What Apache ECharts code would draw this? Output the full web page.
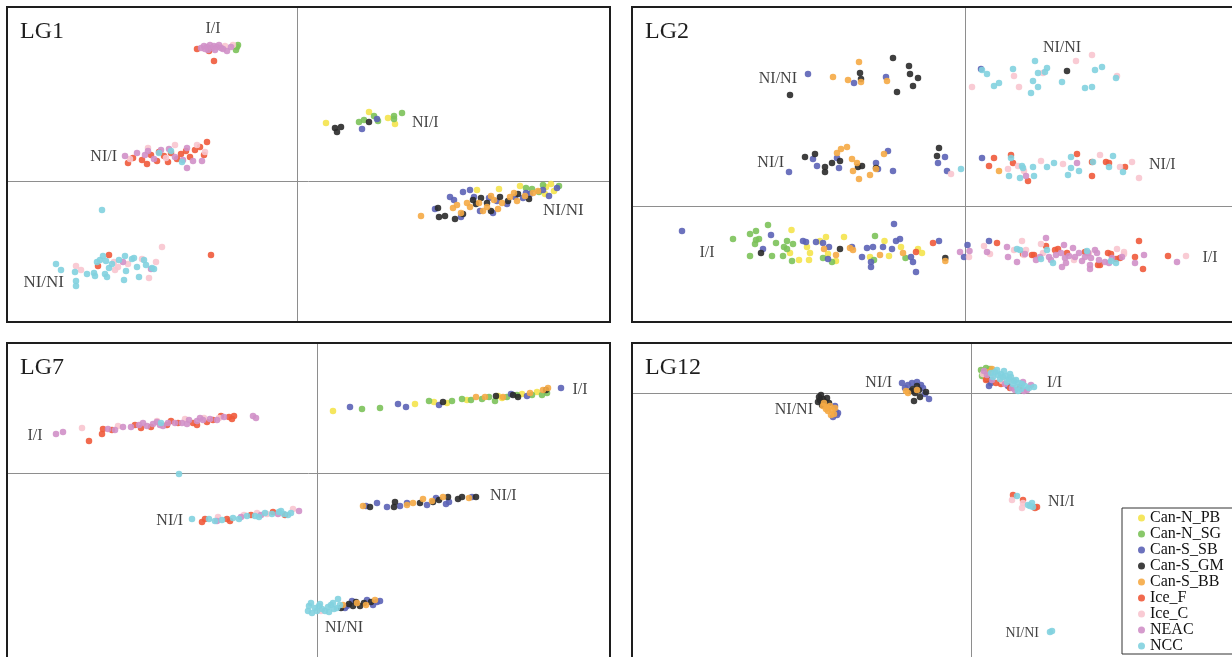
<!DOCTYPE html>
<html><head><meta charset="utf-8">
<script src="https://cdn.jsdelivr.net/npm/echarts@6/dist/echarts.min.js"></script>
<style>html,body{margin:0;padding:0;background:#fff}#c{width:1232px;height:657px}</style>
</head><body><div id="c"></div>
<script>
// ---------- categories ----------
const species = ['Can-N_PB','Can-N_SG','Can-S_SB','Can-S_GM','Can-S_BB','Ice_F','Ice_C','NEAC','NCC'];
const panelTitles = ['LG1','LG2','LG7','LG12'];

// ---------- LG1 values (x, y) ----------
const lg1PB = [[2.9,5.8],[7.2,6.9],[9.1,6.3],[9.8,5.7],[18.0,-0.9],[22.3,-0.5],[25.4,-0.3],[24.9,-0.6],[24.8,-1.3],[20.2,-0.8],[25.7,-1.0]];
const lg1SG = [[-6.0,13.4],[-6.1,13.1],[-5.9,13.6],[6.2,5.9],[6.7,6.1],[7.7,6.5],[8.1,6.0],[9.7,6.5],[9.7,6.2],[10.5,6.8],[23.5,-0.8],[24.2,-1.1],[26.2,-0.5],[22.9,-0.7],[24.6,-0.4]];
const lg1SB = [[8.0,6.2],[6.5,5.2],[13.8,-2.8],[15.3,-1.6],[16.6,-1.1],[15.7,-1.9],[17.7,-1.6],[18.3,-3.0],[19.2,-1.7],[20.0,-2.0],[21.0,-2.3],[21.8,-1.6],[22.6,-1.7],[23.3,-1.3],[24.6,-0.9],[25.2,-1.5],[16.4,-3.6],[19.6,-3.2],[26.0,-0.7],[17.3,-0.9],[22.9,-1.2]];
const lg1GM = [[3.8,5.3],[4.0,4.9],[4.4,5.4],[7.2,5.9],[14.1,-2.7],[14.2,-3.6],[15.8,-3.8],[14.8,-3.5],[16.6,-3.3],[17.6,-1.9],[18.4,-1.7],[19.0,-2.2],[20.3,-1.6],[21.1,-2.0],[23.2,-1.8],[22.1,-1.3],[17.9,-2.3],[19.4,-3.0]];
const lg1BB = [[12.4,-3.5],[15.6,-2.7],[16.4,-3.2],[17.3,-2.6],[18.2,-2.2],[19.0,-2.6],[19.7,-1.9],[20.5,-2.2],[21.3,-1.6],[22.0,-2.0],[22.8,-1.5],[23.6,-1.2],[20.1,-2.8],[18.6,-3.0],[21.7,-1.2],[17.0,-2.2],[24.1,-1.0],[19.4,-1.5],[16.0,-2.4]];
const lg1IF = [[-10.0,13.2],[-8.8,13.0],[-8.3,12.0],[-16.9,1.8],[-16.4,2.3],[-15.5,2.1],[-14.6,2.6],[-14.0,2.0],[-13.3,2.5],[-12.6,2.8],[-12.0,2.2],[-11.6,2.7],[-11.1,3.0],[-10.7,2.4],[-10.2,3.1],[-9.7,3.4],[-9.3,2.6],[-9.0,3.9],[-12.9,1.9],[-13.8,2.9],[-15.0,1.7],[-18.8,-7.4],[-19.9,-8.5],[-8.6,-7.4]];
const lg1IC = [[-7.2,13.5],[-6.4,13.6],[-14.9,3.3],[-12.2,3.6],[-10.0,3.6],[-9.2,2.9],[-13.1,2.3],[-16.7,2.2],[-22.1,-8.5],[-21.6,-8.9],[-17.9,-8.6],[-16.9,-8.3],[-15.5,-7.8],[-14.8,-9.7],[-14.1,-8.1],[-13.5,-6.6],[-18.2,-8.9],[-18.3,-8.1]];
const lg1NEAC = [[-9.6,13.3],[-9.3,13.5],[-9.0,13.4],[-8.7,13.6],[-8.5,13.3],[-8.3,13.5],[-8.0,13.4],[-7.8,13.6],[-7.6,13.3],[-7.4,13.2],[-8.9,13.1],[-8.2,13.1],[-7.0,13.0],[-6.6,13.4],[-9.2,13.2],[-17.2,2.5],[-16.0,2.8],[-15.2,2.6],[-14.3,2.2],[-13.6,3.1],[-12.8,3.2],[-12.2,2.4],[-11.4,2.1],[-11.0,3.3],[-10.4,2.0],[-9.5,2.0],[-11.0,1.3],[-14.9,3.0],[-17.4,-8.1],[-14.6,-8.8]];
const lg1NCC = [[-13.8,2.8],[-11.5,1.9],[-12.6,3.0],[-19.5,-2.9],[-24.1,-8.3],[-23.6,-8.9],[-22.2,-9.1],[-22.1,-10.0],[-22.1,-10.5],[-21.0,-9.3],[-20.3,-9.2],[-20.2,-9.5],[-20.0,-8.1],[-19.7,-7.9],[-19.4,-7.5],[-19.1,-8.0],[-19.2,-9.3],[-19.0,-9.6],[-18.8,-8.7],[-18.5,-8.3],[-17.8,-7.9],[-17.2,-7.5],[-17.3,-9.9],[-17.1,-9.0],[-16.5,-7.8],[-16.3,-7.7],[-16.0,-8.6],[-15.8,-9.6],[-15.3,-7.9],[-15.1,-8.4],[-14.3,-8.8],[-14.5,-8.7]];
const lg1LabelText = ['I/I','NI/I','NI/I','NI/NI','NI/NI'];
const lg1LabelAt = [[-8.4,15.2],[-18.0,2.4],[11.5,5.8],[24.6,-3.0],[-23.3,-10.2]];

// ---------- LG2 values ----------
const lg2PB = [[-17.35,-2.4],[-17.5,-4.7],[-16.6,-5.4],[-15.8,-4.1],[-15.5,-4.7],[-15.6,-5.4],[-14.5,-3.5],[-13.9,-3.1],[-13.7,-4.8],[-12.9,-5.5],[-12.1,-3.1],[-9.5,-5.1],[-8.05,-3.5],[-7.6,-5.0],[-6.4,-4.1],[-4.7,-4.3],[-4.3,-4.7]];
const lg2SG = [[-23.2,-3.3],[-21.5,-2.8],[-19.7,-1.9],[-20.9,-2.5],[-21.5,-5.0],[-20.9,-3.4],[-21.0,-3.8],[-20.6,-3.3],[-18.9,-3.7],[-19.3,-5.0],[-17.8,-3.5],[-18.1,-4.1],[-17.8,-4.3],[-17.2,-3.8],[-18.2,-5.0],[-17.3,-5.5],[-14.2,-5.2],[-13.3,-5.6],[-9.1,-5.4],[-9.0,-3.0],[-5.95,-5.2]];
const lg2SB = [[-15.7,13.2],[-11.1,12.3],[-7.9,12.9],[1.6,13.7],[-15.2,4.7],[-14.8,4.0],[-12.8,4.8],[-12.6,3.8],[-8.9,4.3],[-8.7,3.7],[-7.7,5.5],[-7.2,3.5],[-17.6,3.4],[-2.0,4.9],[-2.7,4.3],[-1.8,3.5],[1.7,4.8],[-28.3,-2.5],[-19.4,-2.9],[-20.2,-4.3],[-16.2,-3.5],[-15.9,-3.6],[-14.9,-3.6],[-14.2,-3.7],[-13.6,-4.1],[-13.7,-5.3],[-11.3,-4.1],[-10.3,-5.1],[-9.8,-4.2],[-9.2,-4.1],[-9.4,-5.6],[-9.4,-6.1],[-8.2,-4.1],[-7.1,-1.8],[-7.3,-4.3],[-6.9,-3.5],[-6.5,-3.3],[-5.4,-5.1],[-5.2,-5.6],[-4.9,-6.6],[-2.6,-3.5],[-0.1,-5.1],[0.25,-3.9],[2.4,-3.5]];
const lg2GM = [[-10.5,13.3],[-10.4,12.7],[-7.2,14.8],[-6.8,11.4],[-5.6,14.0],[-5.5,13.2],[-4.7,12.8],[-5.2,12.0],[-17.5,11.1],[10.2,13.5],[-16.0,4.9],[-15.0,5.2],[-14.0,3.9],[-14.0,3.4],[-13.3,4.3],[-12.5,4.5],[-10.7,3.9],[-10.3,4.0],[-8.9,3.8],[-2.6,5.8],[-2.8,5.0],[-20.4,-4.7],[-12.5,-4.3],[-1.97,-5.2]];
const lg2BB = [[-13.2,12.9],[-10.6,14.4],[-11.7,12.6],[-10.4,12.4],[-7.8,12.5],[-12.8,5.3],[-12.4,5.7],[-11.8,5.9],[-11.3,4.7],[-10.8,4.3],[-11.2,3.5],[-10.6,2.7],[-9.5,3.1],[-8.9,3.7],[-8.1,5.2],[3.4,3.5],[-14.1,-4.3],[-12.9,-4.9],[-11.5,-4.2],[-11.2,-4.4],[-8.5,-4.9],[-6.2,-4.7],[-1.97,-5.5]];
const lg2IF = [[2.9,4.8],[2.4,4.0],[4.6,5.1],[4.8,4.3],[6.3,2.5],[11.2,5.2],[12.7,4.4],[12.7,3.0],[14.1,4.4],[14.4,4.3],[16.0,3.9],[-4.9,-4.6],[-3.2,-3.7],[3.2,-3.7],[5.8,-4.8],[6.7,-4.9],[6.9,-4.9],[8.1,-4.0],[9.0,-4.4],[9.3,-4.3],[10.2,-4.7],[12.0,-4.6],[13.3,-5.9],[13.5,-5.9],[14.3,-4.7],[14.6,-4.8],[15.1,-5.3],[15.5,-5.2],[17.4,-3.5],[17.8,-6.3],[20.3,-5.0],[17.0,-5.1]];
const lg2IC = [[0.7,11.9],[4.9,13.0],[5.4,11.9],[7.8,13.3],[11.1,14.5],[12.7,15.1],[15.2,13.0],[-1.4,3.2],[4.3,3.7],[5.3,4.0],[5.9,3.5],[7.6,4.5],[9.8,4.2],[13.5,5.1],[15.5,3.9],[16.7,4.4],[17.4,2.8],[0.4,-5.1],[1.9,-4.0],[2.5,-4.8],[5.7,-3.5],[6.1,-4.4],[7.6,-3.8],[7.8,-4.7],[10.9,-5.4],[12.4,-4.7],[15.2,-4.3],[15.9,-4.6],[15.9,-4.8],[22.1,-5.0],[4.9,-4.4],[5.9,-4.9]];
const lg2NEAC = [[6.1,3.0],[11.2,4.3],[-0.5,-4.6],[0.45,-4.5],[2.2,-4.6],[4.2,-4.1],[5.2,-5.6],[4.3,-5.1],[6.0,-4.8],[7.1,-5.4],[7.5,-5.1],[8.1,-3.2],[8.4,-5.1],[8.6,-5.4],[9.1,-4.9],[9.6,-4.7],[9.7,-6.1],[9.9,-3.9],[10.0,-5.2],[10.1,-5.7],[10.4,-5.0],[10.8,-4.2],[11.0,-5.1],[11.4,-4.7],[11.7,-5.5],[12.0,-5.1],[12.3,-4.7],[12.6,-5.2],[12.5,-5.9],[13.0,-4.4],[13.2,-4.7],[13.4,-5.4],[14.0,-5.6],[14.4,-5.7],[14.7,-5.2],[15.7,-5.1],[17.0,-5.7],[17.9,-4.9],[21.2,-5.6],[12.5,-6.3]];
const lg2NCC = [[1.7,13.6],[2.2,13.2],[2.9,12.0],[3.4,12.3],[4.8,13.7],[6.8,12.5],[6.6,11.3],[7.3,11.9],[7.3,13.3],[7.0,14.5],[8.0,13.4],[8.2,13.8],[9.7,12.4],[13.0,13.6],[13.7,13.9],[12.0,11.8],[12.7,11.9],[15.1,12.8],[-0.4,3.7],[4.6,4.8],[4.4,3.0],[5.7,4.0],[5.8,3.8],[5.5,2.8],[6.8,3.9],[6.9,3.0],[8.2,3.9],[8.9,4.3],[10.3,3.1],[10.6,4.9],[10.6,3.8],[11.4,3.5],[12.8,4.4],[14.4,3.9],[14.8,5.0],[15.8,3.4],[5.2,-4.3],[5.5,-4.4],[7.6,-5.3],[8.2,-4.4],[8.8,-5.7],[12.2,-4.5],[15.1,-5.7],[14.6,-5.5]];
const lg2LabelText = ['NI/NI','NI/NI','NI/I','NI/I','I/I','I/I'];
const lg2LabelAt = [[-16.8,12.7],[9.7,15.8],[-18.1,4.3],[18.4,4.1],[-25.8,-4.7],[24.5,-5.2]];

// ---------- LG7 values ----------
const lg7PB = [[1.6,6.2],[9.8,6.9],[11.7,7.1],[13.0,7.0],[15.0,7.3],[18.1,7.7],[20.5,7.9],[22.0,8.1],[18.5,7.5]];
const lg7SG = [[4.5,6.4],[6.3,6.5],[11.2,7.2],[13.5,7.2],[14.5,7.4],[15.4,7.3],[16.5,7.4],[17.2,7.6],[19.0,7.6],[20.0,7.8],[21.5,7.8],[22.5,7.8],[23.0,8.0],[17.8,7.2]];
const lg7SB = [[3.3,6.6],[8.1,6.9],[8.9,6.6],[12.2,6.8],[21.0,7.7],[24.4,8.5],[19.4,7.9],[6.0,-3.0],[7.0,-3.4],[9.0,-3.0],[11.0,-3.2],[11.9,-2.5],[13.2,-2.9],[15.5,-2.4],[4.9,-3.3],[8.3,-3.3],[12.9,-3.1],[2.8,-13.5],[3.5,-12.8],[5.0,-12.7],[6.0,-12.9],[3.0,-13.3],[5.6,-13.2],[6.3,-12.8]];
const lg7GM = [[12.6,7.1],[17.9,7.7],[20.1,7.6],[22.9,8.3],[19.6,7.8],[5.3,-3.4],[7.8,-2.9],[7.7,-3.4],[10.3,-3.0],[11.6,-2.9],[13.1,-2.4],[14.1,-2.6],[14.5,-2.4],[15.9,-2.4],[12.2,-2.7],[2.4,-13.5],[3.2,-13.1],[3.9,-12.9],[4.7,-13.0],[5.4,-12.9],[4.3,-13.3],[3.6,-13.3]];
const lg7BB = [[15.9,7.6],[18.6,7.6],[21.3,8.0],[22.6,8.3],[23.1,8.5],[16.8,7.6],[4.6,-3.3],[9.6,-3.0],[10.6,-2.6],[12.6,-2.4],[15.2,-2.5],[11.5,-2.8],[9.0,-3.2],[2.6,-13.2],[4.0,-13.0],[5.8,-12.7],[4.9,-13.2]];
const lg7IF = [[-22.8,3.2],[-21.5,3.9],[-21.4,4.4],[-20.5,4.3],[-18.2,4.8],[-16.6,4.6],[-15.0,4.8],[-13.9,5.0],[-12.4,5.0],[-11.0,5.1],[-10.4,5.3],[-9.6,5.7],[-8.8,5.6],[-8.5,5.4],[-8.3,5.7],[-17.6,4.5],[-14.6,5.2],[-12.0,4.8],[-11.5,-4.9],[-11.2,-4.6],[-9.0,-4.6],[-8.7,-4.8],[-6.6,-4.2],[-4.4,-3.9],[-3.2,-4.2]];
const lg7IC = [[-23.5,4.5],[-19.9,4.7],[-16.0,5.2],[-13.2,5.4],[-9.8,5.5],[-11.3,5.5],[-9.9,-4.4],[-7.3,-4.2],[-5.0,-4.1],[-2.4,-3.6],[-6.0,-4.0],[0.4,-13.8]];
const lg7NEAC = [[-26.1,3.9],[-25.4,4.1],[-20.9,4.4],[-20.2,4.3],[-19.4,4.6],[-18.6,4.6],[-17.8,4.8],[-17.0,4.7],[-16.4,4.9],[-15.7,4.8],[-14.9,5.0],[-14.2,5.0],[-13.5,5.0],[-12.8,5.3],[-12.0,5.2],[-11.4,5.3],[-10.7,5.4],[-10.0,5.3],[-9.3,5.6],[-15.4,4.7],[-13.0,4.9],[-6.4,5.7],[-6.1,5.5],[-17.4,5.0],[-11.7,5.5],[-16.0,5.1],[-10.0,-4.8],[-7.6,-4.4],[-5.6,-4.2],[-1.8,-3.8],[-3.9,-4.1]];
const lg7NCC = [[-15.6,5.0],[-13.8,-0.1],[-12.5,-4.6],[-10.8,-4.6],[-10.2,-4.8],[-9.5,-4.7],[-8.4,-4.5],[-7.8,-4.6],[-7.0,-4.3],[-6.2,-4.3],[-5.2,-4.0],[-4.5,-4.1],[-3.8,-3.9],[-3.3,-4.1],[-2.9,-4.2],[-3.6,-3.8],[-5.8,-4.4],[-2.6,-4.0],[-0.9,-13.8],[-0.8,-13.3],[-0.5,-14.0],[-0.2,-13.5],[0.2,-13.3],[0.5,-13.6],[0.8,-13.8],[1.1,-13.4],[1.4,-13.2],[1.7,-13.6],[2.0,-13.5],[2.1,-12.6],[1.2,-13.9],[-0.6,-13.0],[2.3,-13.2],[0.3,-13.1],[1.6,-13.0],[0.0,-13.8]];
const lg7LabelText = ['I/I','I/I','NI/I','NI/I','NI/NI'];
const lg7LabelAt = [[-28.2,3.7],[26.3,8.3],[17.3,-2.3],[-13.4,-4.8],[2.7,-15.5]];

// ---------- LG12 values ----------
const lg12PB = [];
const lg12SG = [[1.0,2.3],[1.2,2.0],[1.5,2.5],[1.9,2.4],[1.1,1.7]];
const lg12SB = [[-13.5,-1.9],[-13.4,-2.2],[-13.8,-2.4],[-13.6,-1.3],[-13.3,-2.0],[-6.9,1.0],[-6.6,0.5],[-5.9,1.0],[-5.0,0.8],[-4.8,0.5],[-4.2,-0.6],[-4.6,-0.1],[-6.3,0.8],[-5.4,1.1],[1.8,0.7],[3.7,0.7],[2.0,1.0]];
const lg12GM = [[-15.2,-0.4],[-15.0,-0.2],[-14.8,-0.6],[-15.3,-0.9],[-14.6,-0.9],[-14.9,-1.2],[-14.4,-0.5],[-14.2,-1.0],[-15.1,-0.7],[-5.7,-0.8],[-5.6,0.0],[-5.1,-0.4],[-5.4,0.7],[-5.8,0.4],[-4.5,0.1],[-5.2,0.3],[-6.0,0.2],[1.6,1.4]];
const lg12BB = [[-14.7,-1.0],[-14.4,-1.4],[-14.1,-1.3],[-14.3,-1.8],[-13.9,-1.7],[-13.7,-2.1],[-14.5,-1.6],[-13.6,-1.5],[-14.0,-2.2],[-14.8,-1.3],[-6.3,0.0],[-5.4,0.3],[-6.5,0.2],[2.1,2.4],[1.5,1.5],[1.8,2.1]];
const lg12IF = [[1.5,1.3],[2.5,1.0],[3.0,0.9],[3.9,0.5],[4.9,0.6],[4.2,-10.2],[5.2,-10.7],[6.6,-11.4],[6.4,-11.5]];
const lg12IC = [[1.2,1.9],[2.3,1.9],[4.0,1.3],[3.1,1.2],[4.1,-10.7],[5.2,-11.0],[5.1,-11.5]];
const lg12NEAC = [[1.3,2.2],[1.6,1.8],[2.1,1.3],[3.4,0.9],[4.1,0.5],[5.2,1.1],[5.6,0.3],[6.0,0.8],[4.4,0.3],[5.3,0.2]];
const lg12NCC = [[2.0,2.0],[2.4,2.1],[2.7,1.8],[3.0,1.9],[3.2,1.6],[3.5,1.7],[3.8,1.4],[4.0,1.6],[4.3,1.2],[4.5,1.3],[4.8,1.0],[5.1,0.9],[5.4,0.7],[5.8,0.5],[6.3,0.6],[2.2,1.6],[2.9,1.4],[3.6,1.1],[4.2,0.9],[4.6,0.6],[5.0,0.4],[3.3,2.2],[3.9,1.9],[4.7,0.2],[2.6,2.3],[4.6,-10.3],[5.7,-11.2],[6.1,-11.0],[6.2,-11.4],[5.9,-11.3],[7.9,-23.9],[8.1,-23.8]];
const lg12LabelText = ['NI/NI','NI/I','I/I','NI/I','NI/NI'];
const lg12LabelAt = [[-15.8,-1.7],[-7.9,1.0],[7.6,1.0],[7.7,-10.9],[6.8,-24.0]];

// ---------- styles / layout ----------
const colors = ['#f4e34c','#7cc25a','#5c63b6','#2a2a2a','#f5aa45','#ef5a3b','#f8c5cf','#d090c8','#82d1df'];
const FONT = "'Liberation Serif','DejaVu Serif',serif";
const W = 1232, H = 657;
const UNIT = 10; // pixels per data unit
// frame: full panel box (may run past the page edge); cx/cy: where the zero lines cross
const layout = [
  {left:7, top:7, width:603, height:315, cx:297, cy:181},
  {left:632, top:7, width:660, height:315, cx:965, cy:206},
  {left:7, top:343, width:603, height:340, cx:317, cy:473},
  {left:632, top:343, width:660, height:340, cx:971, cy:393}
];
const labelAlign = [
  ['center','right','left','left','right'],
  ['right','center','right','left','center','center'],
  ['center','center','left','right','center'],
  ['right','right','left','left','right']
];
const labelSize = [[16,16,16,17,17],[16,16,16,16,16,16],[16,16,16,16,16],[16,16,16,16,14]];

const panelData = [
  [lg1PB,lg1SG,lg1SB,lg1GM,lg1BB,lg1IF,lg1IC,lg1NEAC,lg1NCC],
  [lg2PB,lg2SG,lg2SB,lg2GM,lg2BB,lg2IF,lg2IC,lg2NEAC,lg2NCC],
  [lg7PB,lg7SG,lg7SB,lg7GM,lg7BB,lg7IF,lg7IC,lg7NEAC,lg7NCC],
  [lg12PB,lg12SG,lg12SB,lg12GM,lg12BB,lg12IF,lg12IC,lg12NEAC,lg12NCC]
];
const panelLabels = [[lg1LabelText,lg1LabelAt],[lg2LabelText,lg2LabelAt],[lg7LabelText,lg7LabelAt],[lg12LabelText,lg12LabelAt]];

const grid = [], xAxis = [], yAxis = [], series = [], title = [], graphic = [];
layout.forEach((g,i)=>{
  // plotting area clipped to the page so the scale stays at UNIT px per unit
  const gw = Math.min(g.width, W - g.left), gh = Math.min(g.height, H - g.top);
  grid.push({left:g.left, top:g.top, width:gw, height:gh, show:false});
  graphic.push({type:'rect', silent:true, z:100, shape:{x:g.left, y:g.top, width:g.width, height:g.height},
    style:{fill:'none', stroke:'#1e1e1e', lineWidth:2}});
  const axisCommon = {type:'value', axisTick:{show:false}, axisLabel:{show:false}, splitLine:{show:false},
    axisLine:{onZero:true, lineStyle:{color:'#8e8e8e', width:1}}};
  xAxis.push(Object.assign({gridIndex:i, min:(g.left-g.cx)/UNIT, max:(g.left+gw-g.cx)/UNIT}, axisCommon));
  yAxis.push(Object.assign({gridIndex:i, min:(g.cy-(g.top+gh))/UNIT, max:(g.cy-g.top)/UNIT}, axisCommon));
  title.push({text:panelTitles[i], left:g.left+13, top:g.top+13, padding:0,
    textStyle:{fontFamily:FONT, fontSize:24, fontWeight:'normal', color:'#1e1e1e'}});
  species.forEach((s,k)=>{
    series.push({type:'scatter', name:s, xAxisIndex:i, yAxisIndex:i, data:panelData[i][k],
      symbolSize:6.5, itemStyle:{color:colors[k], opacity:0.9}, emphasis:{disabled:true}});
  });
  const [txt, at] = panelLabels[i];
  series.push({type:'scatter', name:'labels'+i, xAxisIndex:i, yAxisIndex:i, silent:true, symbolSize:1,
    itemStyle:{color:'rgba(0,0,0,0)'}, z:5,
    label:{show:true, position:'inside', formatter:p=>p.name, fontFamily:FONT, color:'#111', verticalAlign:'middle'},
    data: txt.map((t,j)=>({name:t, value:at[j], label:{align:labelAlign[i][j], fontSize:labelSize[i][j]}}))});
});

const chart = echarts.init(document.getElementById('c'), null, {renderer:'canvas'});
chart.setOption({
  animation:false,
  backgroundColor:'#fff',
  title, grid, xAxis, yAxis, series, graphic,
  legend:{data:species, orient:'vertical', left:1122, top:508, itemGap:0, itemWidth:7, itemHeight:7, icon:'circle',
    padding:[2,40,0,16], borderColor:'#333', borderWidth:1, backgroundColor:'#fff', selectedMode:false,
    textStyle:{fontFamily:FONT, fontSize:16, lineHeight:16, color:'#111'}}
});
</script></body></html>
